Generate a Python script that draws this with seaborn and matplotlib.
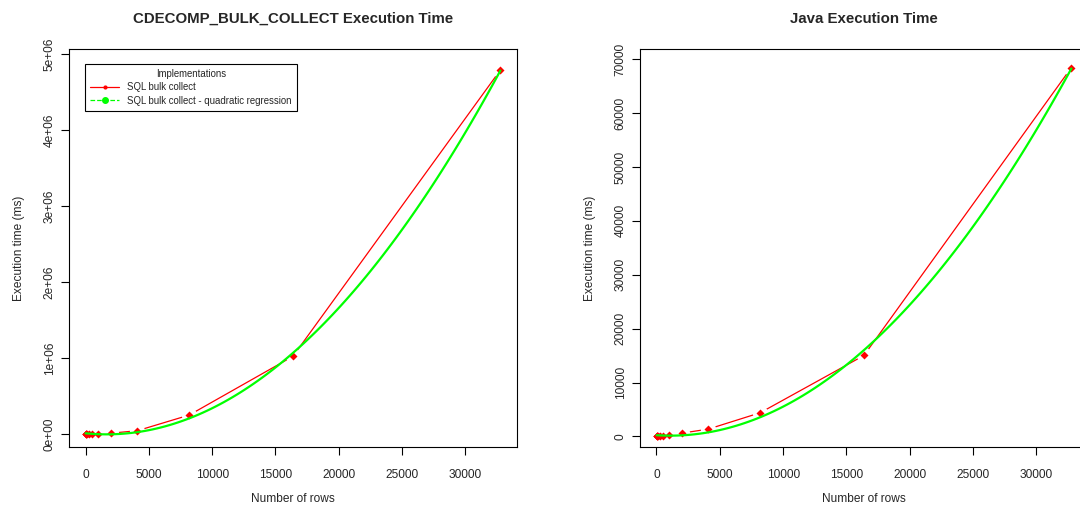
import matplotlib
matplotlib.use('Agg')
from matplotlib import pyplot as plt
from matplotlib.lines import Line2D
import seaborn as sns

rows = [8, 16, 32, 64, 128, 256, 512, 1024, 2048, 4096, 8192, 16384, 32768]
sql_ms = [3, 6, 12, 30, 80, 250, 800, 3000, 11000, 43000, 249000, 1022000, 4790000]
java_ms = [5, 8, 12, 20, 40, 80, 150, 315, 630, 1370, 4400, 15030, 68460]

titles = ['CDECOMP_BULK_COLLECT Execution Time', 'Java Execution Time']
ylims = [(-171000, 5066000), (-1950, 71900)]
yticks = [[0, 1e6, 2e6, 3e6, 4e6, 5e6], list(range(0, 70001, 10000))]
yticklabels = [['0e+00', '1e+06', '2e+06', '3e+06', '4e+06', '5e+06'],
               [str(v) for v in range(0, 70001, 10000)]]
xticks = list(range(0, 30001, 5000))

sns.set_style('white')
plt.rcParams['font.family'] = ['Liberation Sans', 'DejaVu Sans']

fig = plt.figure(figsize=(10.8, 5.14), dpi=100)
axes = [fig.add_axes([0.0639, 0.1304, 0.4148, 0.7743]),
        fig.add_axes([0.5926, 0.1304, 0.4148, 0.7743])]

span = rows[-1] - rows[0]
xlim = (rows[0] - 0.04 * span, rows[-1] + 0.04 * span)

for ax, values, title, ylim, yt, ytl in zip(axes, [sql_ms, java_ms], titles, ylims, yticks, yticklabels):
    # type="b" style: line, white gaps around the points, then the points
    sns.lineplot(x=rows, y=values, color='#FF0000', lw=0.9, ax=ax, estimator=None, sort=False, zorder=2)
    ax.plot(rows, values, ls='none', marker='o', ms=11, color='white', mec='none', zorder=3)
    ax.plot(rows, values, ls='none', marker='D', ms=4.2, color='#FF0000', mec='none', zorder=4)
    sns.regplot(x=rows, y=values, order=2, ci=None, scatter=False, ax=ax,
                line_kws=dict(color='#00FF00', lw=1.6, zorder=5))

    ax.set_xlim(xlim)
    ax.set_ylim(ylim)
    ax.set_xticks(xticks)
    ax.set_xticklabels([str(v) for v in xticks])
    ax.set_yticks(yt)
    ax.set_yticklabels(ytl, rotation=90, va='center')
    ax.tick_params(axis='both', direction='out', length=5.5, width=0.8, color='black',
                   labelsize=8.6, left=True, bottom=True)
    ax.tick_params(axis='x', pad=10)
    ax.tick_params(axis='y', pad=4)
    for s in ax.spines.values():
        s.set_color('black')
        s.set_linewidth(0.8)
    ax.set_title(title, fontsize=10.8, fontweight='bold', pad=19)
    ax.set_xlabel('Number of rows', fontsize=8.6, labelpad=9)
    ax.set_ylabel('Execution time (ms)', fontsize=8.6, labelpad=13.5)
    ax.grid(False)

handles = [Line2D([], [], color='#FF0000', lw=0.9, marker='.', ms=4),
           Line2D([], [], color='#00FF00', lw=0.9, ls='--', marker='o', ms=4)]
leg = axes[0].legend(handles, ['SQL bulk collect', 'SQL bulk collect - quadratic regression'],
                     title='Implementations', loc='upper left', bbox_to_anchor=(0.036, 0.963),
                     borderaxespad=0, fontsize=6.9, title_fontsize=6.9, frameon=True,
                     fancybox=False, edgecolor='black', framealpha=1, handlelength=3,
                     borderpad=0.55, labelspacing=0.35)
leg.get_frame().set_linewidth(0.8)

fig.savefig('out.png', dpi=100)
